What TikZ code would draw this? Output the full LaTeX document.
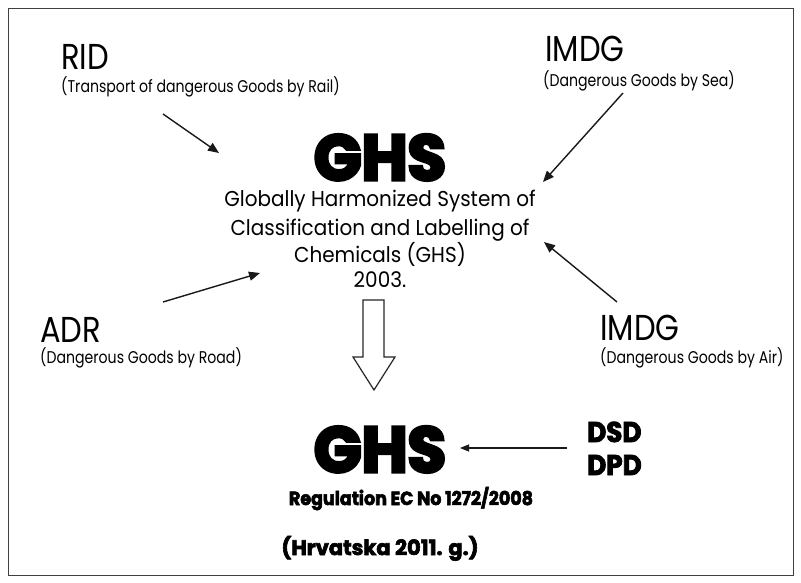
\documentclass[tikz,border=0pt]{standalone}
\usepackage{fontspec}
\setmainfont{Poppins}[FakeStretch=0.85]
\newfontfamily\subfont{Poppins}[FakeStretch=0.83]
\newfontfamily\midfont{Poppins}[FakeStretch=0.93]
\newfontfamily\heavyfont{Poppins}[FakeStretch=0.92, BoldFeatures={FakeBold=3}]
\newfontfamily\blackfont{Poppins}[FakeStretch=0.98, BoldFeatures={FakeBold=5}]
\newfontfamily\hrvfont{Poppins}[FakeStretch=1.0, BoldFeatures={FakeBold=3}]
\usetikzlibrary{arrows.meta}
\begin{document}
\begin{tikzpicture}[x=1pt,y=-1pt,
  big/.style={font=\fontsize{36}{40}\selectfont, anchor=base west, inner sep=0pt},
  sub/.style={font=\subfont\fontsize{17}{20}\selectfont, anchor=base west, inner sep=0pt},
  mid/.style={font=\midfont\fontsize{21.5}{27}\selectfont, anchor=base, inner sep=0pt, text height=16pt, text depth=5pt},
  ghs/.style={font=\blackfont\bfseries\fontsize{64}{70}\selectfont, anchor=base, inner sep=0pt, text height=46pt, text depth=0pt},
  bold/.style={font=\heavyfont\bfseries\fontsize{19}{24}\selectfont, inner sep=0pt},
  code/.style={font=\heavyfont\bfseries\fontsize{28.5}{30}\selectfont, anchor=base west, inner sep=0pt},
  arr/.style={-{Triangle[length=11pt,width=9pt]}, line width=1.4pt, draw=black!90},
  thinarr/.style={-{Triangle[length=9pt,width=7pt]}, line width=1.1pt, draw=black!90},
  frame/.style={draw=black!75, line width=1pt}]
\useasboundingbox (0,0) rectangle (801,583);
\fill[white] (0,0) rectangle (801,583);
\draw[frame] (8,9) rectangle (793,575);
% labels
\node[big] (rid) at (61,70) {RID};
\node[sub] (ridsub) at (61,93) {(Transport of dangerous Goods by Rail)};
\node[big] (imdgs) at (545,62) {IMDG};
\node[sub] (imdgssub) at (543,87) {(Dangerous Goods by Sea)};
\node[big] (adr) at (40,342) {ADR};
\node[sub] (adrsub) at (40,363) {(Dangerous Goods by Road)};
\node[big] (imdga) at (600,340) {IMDG};
\node[sub] (imdgasub) at (600,363) {(Dangerous Goods by Air)};
% centre
\node[ghs] (ghs1) at (380,180) {GHS};
\node[mid] (l1) at (380,207) {Globally Harmonized System of};
\node[mid] (l2) at (380,235) {Classification and Labelling of};
\node[mid] (l3) at (380,262) {Chemicals (GHS)};
\node[mid] (l4) at (380,287) {2003.};
% hollow arrow
\draw[line width=1.2pt, draw=black!85, fill=white, line join=miter]
  (363,300) -- (384,300) -- (384,357) -- (395,357) -- (374,390) -- (353,357) -- (363,357) -- cycle;
% bottom
\node[ghs] (ghs2) at (380,472) {GHS};
\node[code] (dsd) at (587,442) {DSD};
\node[code] (dpd) at (587,475) {DPD};
\node[bold, anchor=base] (reg) at (411,505) {Regulation EC No 1272/2008};
\node[bold, font=\hrvfont\bfseries\fontsize{21}{24}\selectfont, anchor=base] (hrv) at (380,555) {(Hrvatska 2011. g.)};
% arrow ends
\coordinate (r1) at (163,114); \coordinate (r2) at (219,153);
\coordinate (s1) at (623,93);  \coordinate (s2) at (543,182);
\coordinate (a1) at (163,302); \coordinate (a2) at (260,273);
\coordinate (i1) at (617,302); \coordinate (i2) at (544,242);
\coordinate (d1) at (567,448); \coordinate (d2) at (460,448);
\draw[arr] (r1) -- (r2);
\draw[arr] (s1) -- (s2);
\draw[arr] (a1) -- (a2);
\draw[arr] (i1) -- (i2);
\draw[thinarr] (d1) -- (d2);
\end{tikzpicture}
\end{document}
